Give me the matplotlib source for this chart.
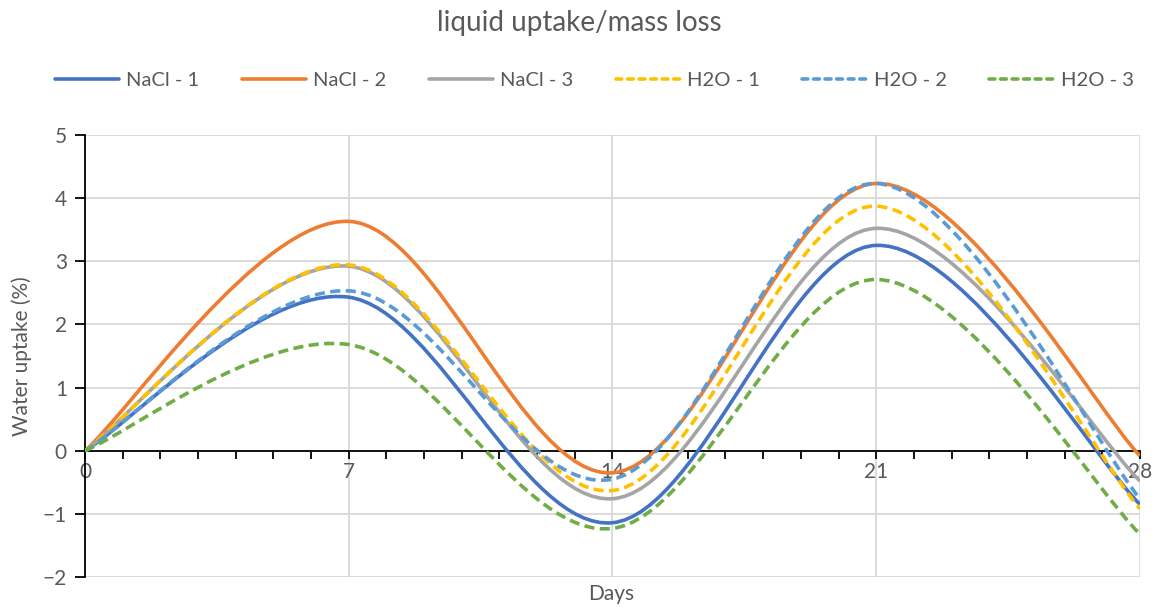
"""Water uptake / mass loss curves, Excel-style smoothed lines."""
import numpy as np
import matplotlib
matplotlib.use('Agg')
import matplotlib.pyplot as plt
from matplotlib.path import Path
from matplotlib.patches import PathPatch
from matplotlib.lines import Line2D
from matplotlib.ticker import MultipleLocator

plt.rcParams['font.family'] = ['Lato', 'DejaVu Sans']

#  Data 
days = [0, 7, 14, 21, 28]
nacl_1 = [0, 2.43, -1.14, 3.25, -0.85]
nacl_2 = [0, 3.63, -0.35, 4.23, -0.08]
nacl_3 = [0, 2.92, -0.76, 3.52, -0.48]
h2o_1 = [0, 2.94, -0.63, 3.87, -0.92]
h2o_2 = [0, 2.53, -0.45, 4.23, -0.76]
h2o_3 = [0, 1.68, -1.23, 2.71, -1.32]

SERIES = [
    ('NaCl - 1', nacl_1, '#4472C4', '-'),
    ('NaCl - 2', nacl_2, '#ED7D31', '-'),
    ('NaCl - 3', nacl_3, '#A5A5A5', '-'),
    ('H2O - 1', h2o_1, '#FFC000', '--'),
    ('H2O - 2', h2o_2, '#5B9BD5', '--'),
    ('H2O - 3', h2o_3, '#70AD47', '--'),
]
TXT = '#595959'
GRID = '#D9D9D9'
LW = 2.6
DASH = (0, (2.8, 1.5))
LEG_DASH = (0, (1.6, 1.6))


def smooth_path(x, y):
    # Catmull-Rom style cubic Bezier (like Excel's "smoothed line")
    p = np.column_stack([x, y]).astype(float)
    ext = np.vstack([p[0], p, p[-1]])
    verts = [p[0]]
    codes = [Path.MOVETO]
    for i in range(len(p) - 1):
        p0, p1, p2, p3 = ext[i], ext[i + 1], ext[i + 2], ext[i + 3]
        c1 = p1 + (p2 - p0) / 6
        c2 = p2 - (p3 - p1) / 6
        verts += [c1, c2, p2]
        codes += [Path.CURVE4] * 3
    return Path(verts, codes)


fig = plt.figure(figsize=(11.58, 6.10), dpi=100)
ax = fig.add_axes([0.0734, 0.054, 0.911, 0.725])

handles = []
for label, vals, color, ls in SERIES:
    style = DASH if ls == '--' else '-'
    patch = PathPatch(smooth_path(days, vals), facecolor='none', edgecolor=color,
                      lw=LW, linestyle=style, capstyle='butt', zorder=3)
    ax.add_patch(patch)
    handles.append(Line2D([], [], color=color, lw=LW,
                          linestyle=LEG_DASH if ls == '--' else '-',
                          solid_capstyle='round', dash_capstyle='round', label=label))

ax.set_xlim(0, 28)
ax.set_ylim(-2, 5)
ax.xaxis.set_major_locator(MultipleLocator(7))
ax.xaxis.set_minor_locator(MultipleLocator(1))
ax.yaxis.set_major_locator(MultipleLocator(1))

ax.grid(True, which='major', color=GRID, lw=1.3, zorder=0)
ax.set_axisbelow(True)
for s in ['top', 'right']:
    ax.spines[s].set_visible(False)
ax.spines['bottom'].set_position(('data', 0))
ax.spines['bottom'].set_color('black')
ax.spines['bottom'].set_linewidth(1.3)
ax.spines['left'].set_color('black')
ax.spines['left'].set_linewidth(1.3)

ax.tick_params(axis='x', which='both', direction='out', length=6, width=1.3,
               color='black', labelsize=15, labelcolor=TXT, pad=2)
ax.tick_params(axis='y', which='major', direction='out', length=7, width=1.3,
               color='black', labelsize=15, labelcolor=TXT, pad=6)

ax.set_ylabel('Water uptake (%)', fontsize=15, color=TXT, labelpad=8)
fig.text(0.528, 0.026, 'Days', ha='center', va='center', fontsize=15, color=TXT)

fig.suptitle('liquid uptake/mass loss', y=0.962, fontsize=20, color=TXT, va='center')
fig.legend(handles=handles, loc='center', bbox_to_anchor=(0.513, 0.868), ncol=6,
           frameon=False, fontsize=14.5, labelcolor=TXT, handlelength=3.2,
           handletextpad=0.35, columnspacing=2.1)

fig.savefig('out.png', dpi=100)
print('Saved -> out.png')
